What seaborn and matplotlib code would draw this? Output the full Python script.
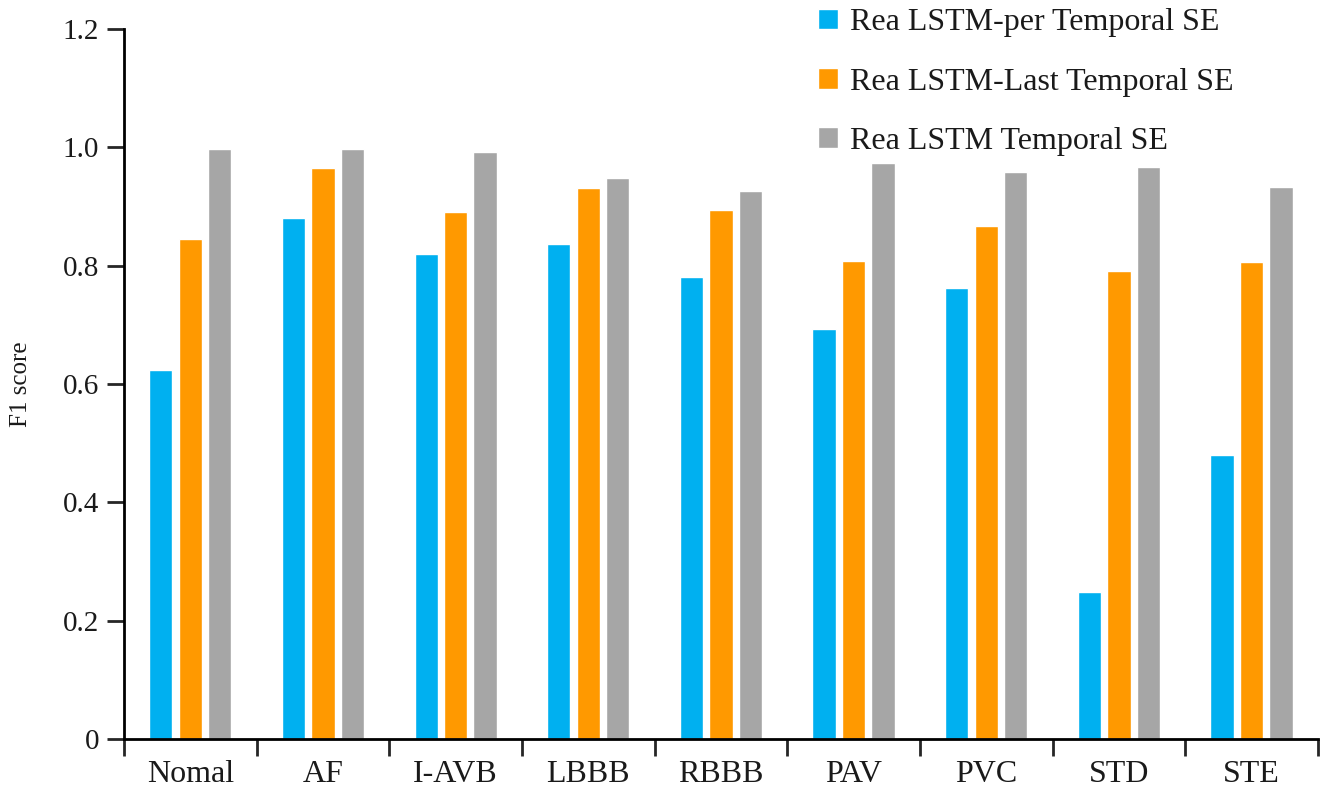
import pandas as pd
import matplotlib
matplotlib.use('Agg')
import matplotlib.pyplot as plt
import seaborn as sns
import numpy as np

# Values
categories = ['Nomal', 'AF', 'I-AVB', 'LBBB', 'RBBB', 'PAV', 'PVC', 'STD', 'STE']
per_temporal = [0.624, 0.880, 0.820, 0.837, 0.781, 0.693, 0.762, 0.248, 0.480]
last_temporal = [0.845, 0.965, 0.891, 0.931, 0.894, 0.808, 0.867, 0.791, 0.806]
full_temporal = [0.997, 0.997, 0.992, 0.948, 0.926, 0.973, 0.958, 0.967, 0.933]
series_names = ['Rea LSTM-per Temporal SE', 'Rea LSTM-Last Temporal SE', 'Rea LSTM Temporal SE']
colors = ['#00B0F0', '#FF9900', '#A6A6A6']

data = pd.DataFrame({
    'Category': categories * 3,
    'F1': per_temporal + last_temporal + full_temporal,
    'Model': [series_names[0]] * 9 + [series_names[1]] * 9 + [series_names[2]] * 9,
})

sns.set_style('ticks')
plt.rcParams['font.family'] = ['Liberation Serif', 'DejaVu Serif']
plt.rcParams['text.color'] = '#1a1a1a'

fig = plt.figure(figsize=(13.29, 7.90), dpi=100)
ax = fig.add_axes([0.0933, 0.0646, 0.8984, 0.8987])

sns.barplot(data=data, x='Category', y='F1', hue='Model', palette=colors,
            width=0.667, gap=0.21, saturation=1, ax=ax)

ax.set_ylim(0, 1.2)
ax.set_xlim(-0.5, len(categories) - 0.5)
ax.set_yticks([0, 0.2, 0.4, 0.6, 0.8, 1.0, 1.2])
ax.set_yticklabels(['0', '0.2', '0.4', '0.6', '0.8', '1.0', '1.2'])
ax.set_xticks(np.arange(-0.5, len(categories)), minor=True)
ax.tick_params(axis='x', which='major', length=0, labelsize=23, pad=15,
               labelcolor='#1a1a1a')
ax.tick_params(axis='x', which='minor', length=12, width=2, direction='out')
ax.tick_params(axis='y', length=12, width=2, labelsize=21, pad=6,
               labelcolor='#1a1a1a')
ax.set_xlabel('')
ax.set_ylabel('F1 score', fontsize=18, labelpad=22, color='#1a1a1a')

for side in ['top', 'right']:
    ax.spines[side].set_visible(False)
for side in ['left', 'bottom']:
    ax.spines[side].set_linewidth(2)
    ax.spines[side].set_color('black')

ax.legend(loc='upper left', bbox_to_anchor=(0.594, 1.026), bbox_transform=fig.transFigure,
          frameon=False, fontsize=23, handlelength=0.62, handleheight=0.62,
          handletextpad=0.38, labelspacing=0.95)

plt.savefig('out.png', dpi=100)
